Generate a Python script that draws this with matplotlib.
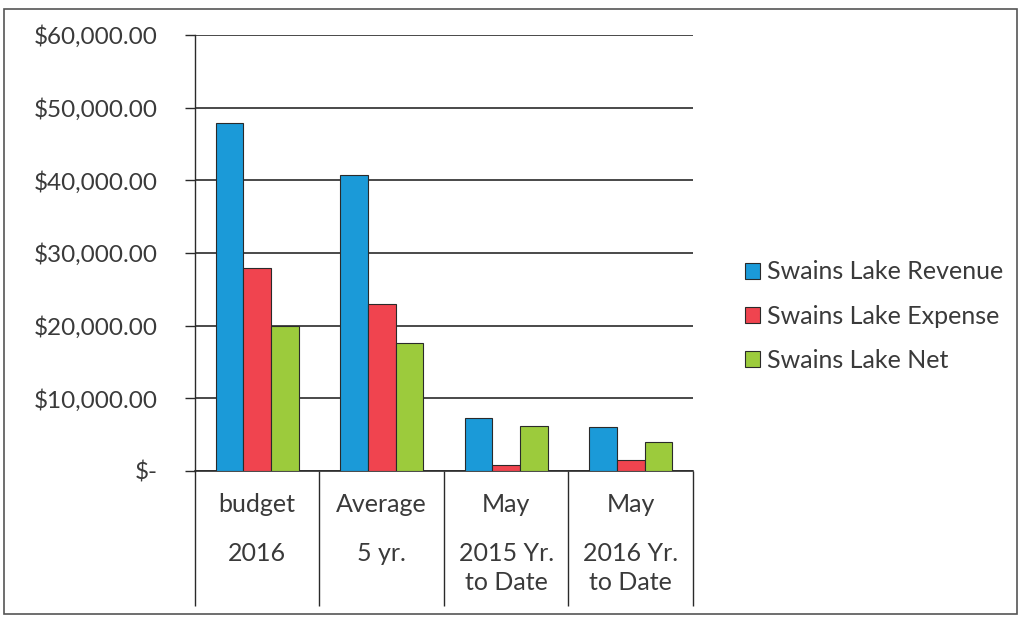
import numpy as np
import matplotlib
matplotlib.use("Agg")
import matplotlib.pyplot as plt
from matplotlib.patches import Rectangle
from matplotlib.ticker import FuncFormatter
import matplotlib.transforms as mtransforms

# data
categories_top = ["budget", "Average", "May", "May"]
categories_bottom = ["2016", "5 yr.", "2015 Yr.\nto Date", "2016 Yr.\nto Date"]
series_names = ["Swains Lake Revenue", "Swains Lake Expense", "Swains Lake Net"]
revenue = [47900, 40700, 7300, 6100]
expense = [28000, 23000, 800, 1500]
net = [20000, 17600, 6200, 4000]
colors = ["#1b9ad8", "#f0444f", "#9ccb3c"]

plt.rcParams["font.family"] = ["Lato", "DejaVu Sans"]
txt_color = "#3a3a3a"

fig = plt.figure(figsize=(10.23, 6.18), dpi=100)
ax = fig.add_axes([0.1906, 0.2379, 0.4868, 0.7055])

x = np.arange(len(categories_top))
w = 1 / 4.5
for i, (vals, name, c) in enumerate(zip([revenue, expense, net], series_names, colors)):
    ax.bar(x + (i - 1) * w, vals, width=w, color=c, edgecolor="#2a2a2a",
           linewidth=0.8, label=name, zorder=3)

ax.set_xlim(-0.5, len(categories_top) - 0.5)
ax.set_ylim(0, 60000)
ax.set_yticks(np.arange(0, 60001, 10000))
ax.yaxis.set_major_formatter(FuncFormatter(
    lambda v, p: "$-" if v == 0 else f"${v:,.2f}"))
ax.grid(axis="y", color="#2a2a2a", linewidth=1.2, zorder=1)
ax.tick_params(axis="y", length=7, width=1.0, color="#2a2a2a",
               labelsize=17.5, labelcolor=txt_color, pad=20)

# category dividers extending below the axis, labels placed in the cells
ax.set_xticks(np.arange(-0.5, len(categories_top)))
ax.set_xticklabels([])
ax.tick_params(axis="x", length=97, width=1.0, color="#2a2a2a")
trans = mtransforms.blended_transform_factory(ax.transData, ax.transAxes)
for xi, top, bot in zip(x, categories_top, categories_bottom):
    ax.text(xi, -0.077, top, transform=trans, ha="center", va="center",
            fontsize=18, color=txt_color)
    ax.text(xi, -0.163, bot, transform=trans, ha="center", va="top",
            fontsize=18, color=txt_color, linespacing=1.3)

for side in ["top", "right"]:
    ax.spines[side].set_visible(False)
ax.spines["left"].set_color("#2a2a2a")
ax.spines["bottom"].set_color("#2a2a2a")
ax.spines["left"].set_linewidth(1.0)
ax.spines["bottom"].set_linewidth(1.2)

leg = ax.legend(loc="center left", bbox_to_anchor=(1.06, 0.355), frameon=False,
                fontsize=18, handlelength=0.6, handleheight=0.6,
                handletextpad=0.25, labelspacing=0.85, labelcolor=txt_color)

# outer chart frame
fig.patches.append(Rectangle((0.004, 0.006), 0.99, 0.98, transform=fig.transFigure,
                             fill=False, edgecolor="#555555", linewidth=1.2))

fig.savefig("out.png", dpi=100)
